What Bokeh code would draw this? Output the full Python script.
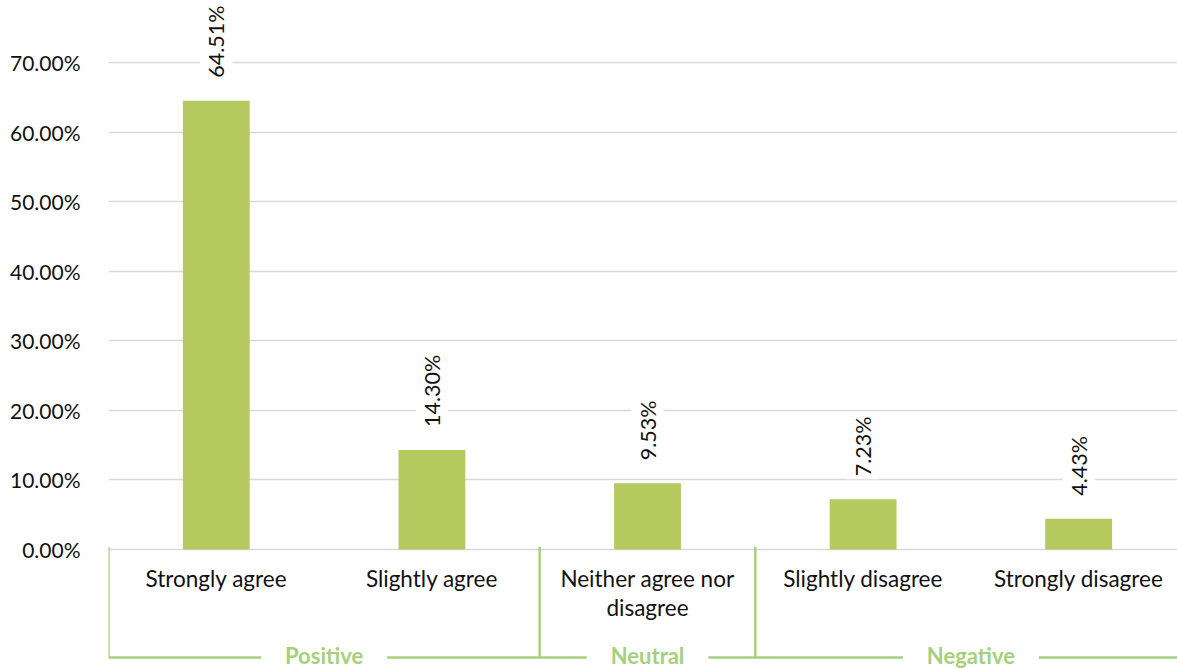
import numpy as np
from bokeh.plotting import figure
from bokeh.models import Range1d, FixedTicker, ColumnDataSource
from bokeh.core.properties import value
from bokeh.embed import file_html
from bokeh.resources import INLINE

categories = ["Strongly agree", "Slightly agree", "Neither agree nor\ndisagree",
              "Slightly disagree", "Strongly disagree"]
values = [64.51, 14.30, 9.53, 7.23, 4.43]
value_labels = ["64.51%", "14.30%", "9.53%", "7.23%", "4.43%"]
y_ticks = [0, 10, 20, 30, 40, 50, 60, 70]
y_tick_labels = ["0.00%", "10.00%", "20.00%", "30.00%", "40.00%", "50.00%", "60.00%", "70.00%"]
groups = ["Positive", "Neutral", "Negative"]
group_sizes = [2, 1, 2]

BAR = "#B5C95F"
BRACKET = "#A6D07C"
FONT = "Lato"

W, H = 1177, 670
left = 108
px_per_cat = 215.6
px_per_unit = 6.957
zero_y = 549

x_idx = np.arange(len(categories))
x_end = -0.5 + (W - left) / px_per_cat
y_top = zero_y / px_per_unit
y_bot = -(H - zero_y) / px_per_unit

p = figure(width=W, height=H, output_backend="svg", toolbar_location=None,
           x_range=Range1d(-0.5, x_end), y_range=Range1d(y_bot, y_top),
           min_border_left=left, min_border_right=0, min_border_top=0, min_border_bottom=0,
           x_axis_location=None)
p.outline_line_color = None
p.background_fill_color = "white"
p.border_fill_color = "white"

p.xgrid.visible = False
p.ygrid.ticker = FixedTicker(ticks=y_ticks)
p.ygrid.grid_line_color = "#D9D9D9"
p.ygrid.grid_line_width = 1.5

ax = p.yaxis[0]
ax.ticker = FixedTicker(ticks=y_ticks)
ax.major_label_overrides = {t: l for t, l in zip(y_ticks, y_tick_labels)}
ax.axis_line_color = None
ax.major_tick_line_color = None
ax.minor_tick_line_color = None
ax.major_tick_out = 0
ax.major_label_standoff = 28
ax.major_label_text_font = FONT
ax.major_label_text_font_size = "21px"
ax.major_label_text_color = "#111111"

src = ColumnDataSource(dict(x=x_idx, top=values, lab=value_labels, cat=categories,
                            zero=[0] * len(values)))
p.vbar(x="x", top="top", bottom=0, width=0.31, source=src, fill_color=BAR, line_color=None)

p.text(x="x", y="top", text="lab", source=src, angle=np.pi / 2,
       text_align="left", text_baseline="middle", y_offset=-20,
       text_font=value(FONT), text_font_size="21.5px", text_color="#111111",
       background_fill_color="white", padding=3)

p.text(x="x", y="zero", text="cat", source=src, text_align="center", text_baseline="top",
       y_offset=15, text_font=value(FONT), text_font_size="22.5px", text_color="#111111",
       text_line_height=1.1)

# group brackets
bounds = np.concatenate([[0], np.cumsum(group_sizes)]) - 0.5
line_y = -(657 - zero_y) / px_per_unit
p.segment(x0=bounds[:-1].tolist() + [bounds[-1]], y0=[0.4] * len(bounds),
          x1=bounds[:-1].tolist() + [bounds[-1]], y1=[line_y] * len(bounds),
          line_color=BRACKET, line_width=2.5)
p.segment(x0=[bounds[0]], y0=[line_y], x1=[bounds[-1]], y1=[line_y],
          line_color=BRACKET, line_width=2.5)
centers = (bounds[:-1] + bounds[1:]) / 2
p.text(x=centers, y=[line_y] * len(groups), text=groups, text_align="center",
       text_baseline="middle", y_offset=-2, text_font=value(FONT), text_font_size="22px",
       text_font_style="bold", text_color=BRACKET,
       background_fill_color="white", padding=(24, 24, 0, 0))

open("out.html", "w").write(file_html(p, INLINE))
